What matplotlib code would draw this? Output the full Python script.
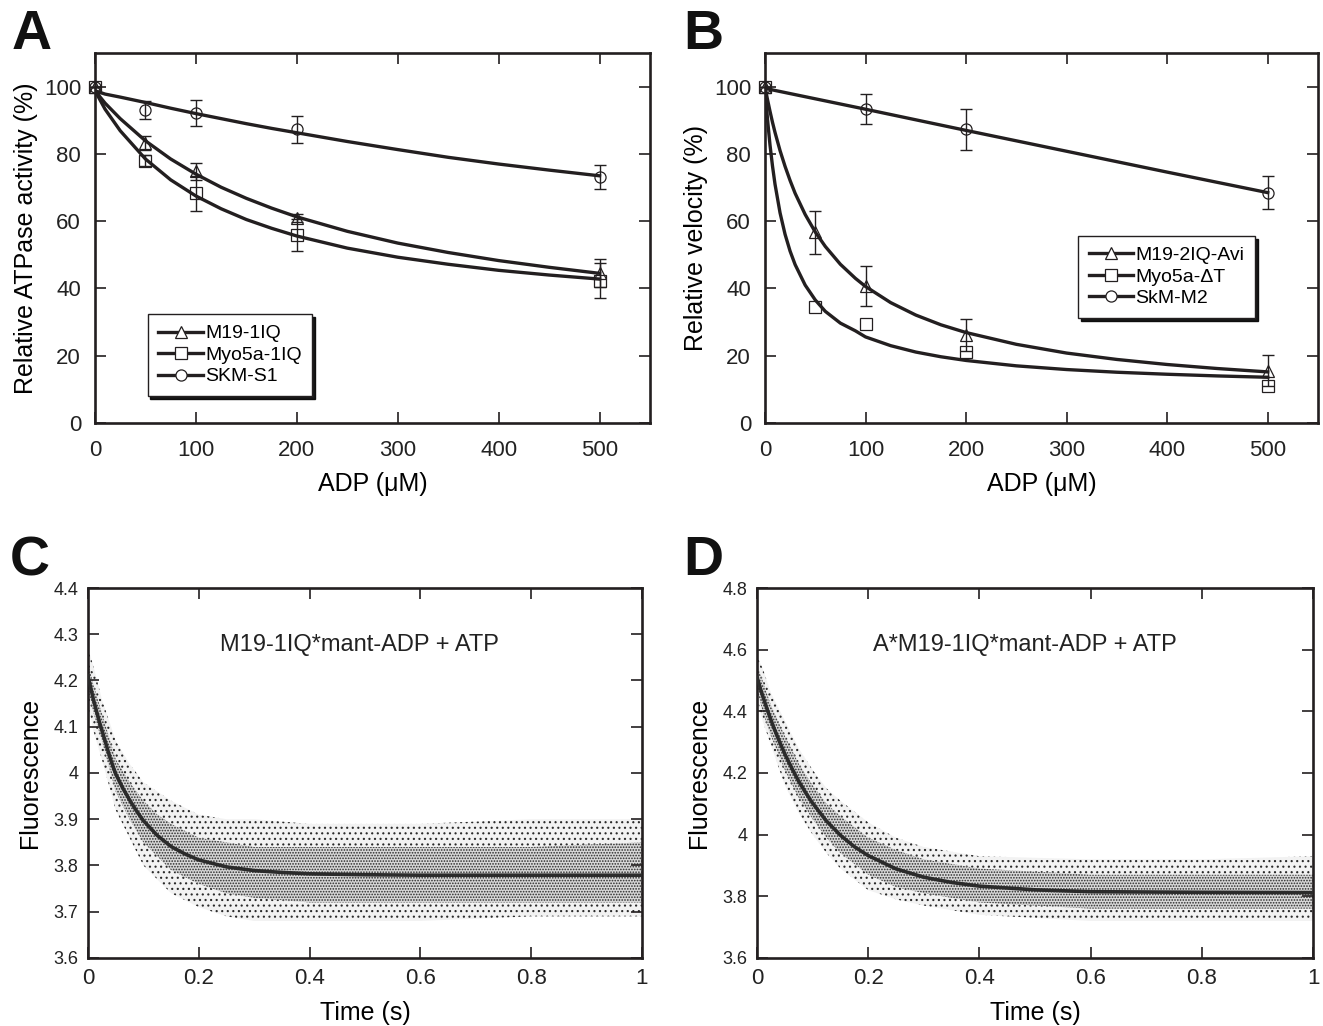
import numpy as np
import matplotlib
matplotlib.use("Agg")
import matplotlib.pyplot as plt
from matplotlib.lines import Line2D
from matplotlib.ticker import FuncFormatter, MultipleLocator

plt.rcParams['font.family'] = ['Liberation Sans', 'DejaVu Sans']
plt.rcParams['hatch.linewidth'] = 0.8

INK = '#231f20'

# ---- panel A : ATPase activity vs ADP ----
a_x = [0, 50, 100, 200, 500]
a_m19 = [100, 83.2, 74.8, 61.0, 44.6]
a_m19_err = [0, 2.0, 2.6, 1.2, 4.3]
a_myo = [100, 78.0, 68.3, 56.0, 42.3]
a_myo_err = [0, 1.6, 5.2, 4.8, 5.2]
a_skm = [100, 93.0, 92.2, 87.3, 73.2]
a_skm_err = [0, 2.6, 3.9, 4.1, 3.6]

a_fit_x = [0, 10, 25, 50, 75, 100, 125, 150, 175, 200, 250, 300, 350, 400, 450, 500]
a_fit_m19 = [98.8, 95.1, 90.5, 83.9, 78.5, 74.0, 70.1, 66.8, 63.9, 61.3, 57.0, 53.5, 50.7, 48.3, 46.3, 44.5]
a_fit_myo = [98.8, 93.3, 86.9, 78.5, 72.3, 67.5, 63.7, 60.5, 57.9, 55.6, 52.0, 49.3, 47.2, 45.4, 44.0, 42.8]
a_fit_skm = [98.8, 97.8, 96.9, 95.3, 93.6, 92.0, 90.5, 89.0, 87.6, 86.3, 83.7, 81.3, 79.0, 77.0, 75.2, 73.5]

# ---- panel B : velocity vs ADP ----
b_x = [0, 50, 100, 200, 500]
b_m19 = [100, 56.7, 40.7, 26.2, 15.6]
b_m19_err = [0, 6.3, 5.9, 4.7, 4.5]
b_myo = [100, 34.6, 29.4, 21.0, 11.0]
b_skm_x = [0, 100, 200, 500]
b_skm = [100, 93.4, 87.3, 68.5]
b_skm_err = [0, 4.5, 6.2, 5.0]

b_fit_x = [0, 2.5, 5, 7.5, 10, 15, 20, 25, 30, 40, 50, 60, 75, 90, 100, 125,
           150, 175, 200, 250, 300, 350, 400, 450, 500]
b_fit_m19 = [100, 96.2, 92.7, 89.4, 86.4, 81.0, 76.3, 72.1, 68.3, 62.0, 56.8, 52.5, 47.2,
             43.0, 40.6, 35.8, 32.1, 29.2, 26.9, 23.4, 20.8, 18.9, 17.4, 16.2, 15.2]
b_fit_myo = [100, 90.4, 82.7, 76.4, 71.0, 62.5, 56.1, 51.1, 47.1, 41.0, 36.6, 33.2, 29.7,
             27.4, 25.6, 23.0, 21.1, 19.7, 18.6, 17.0, 15.9, 15.1, 14.5, 14.0, 13.6]
b_fit_skm_x = [0, 100, 200, 300, 400, 500]
b_fit_skm = [99.5, 93.3, 87.0, 80.8, 74.6, 68.5]

# ---- panels C, D : fluorescence transients ----
fit_t = [0, 0.01, 0.02, 0.03, 0.04, 0.05, 0.0625, 0.075, 0.0875, 0.1, 0.125, 0.15, 0.175,
         0.2, 0.25, 0.3, 0.35, 0.4, 0.5, 0.6, 0.8, 1.0]
c_fit = [4.21, 4.158, 4.113, 4.073, 4.032, 3.998, 3.968, 3.942, 3.918, 3.897, 3.865, 3.841,
         3.825, 3.812, 3.797, 3.789, 3.785, 3.782, 3.780, 3.779, 3.779, 3.779]
d_fit = [4.51, 4.451, 4.397, 4.348, 4.303, 4.262, 4.216, 4.173, 4.136, 4.102, 4.044, 3.998,
         3.961, 3.932, 3.889, 3.862, 3.845, 3.833, 3.821, 3.815, 3.813, 3.812]

# spread of the raw trace (outer = sparse points, inner = dense core)
env_t = [0, 0.01, 0.025, 0.05, 0.075, 0.1, 0.125, 0.15, 0.2, 0.25, 0.3, 0.4, 0.6, 0.8, 1.0]
c_out_hi = [4.27, 4.23, 4.16, 4.07, 4.02, 3.98, 3.96, 3.94, 3.91, 3.90, 3.90, 3.89, 3.89, 3.90, 3.90]
c_out_lo = [4.15, 4.09, 4.03, 3.92, 3.86, 3.80, 3.77, 3.74, 3.71, 3.69, 3.68, 3.68, 3.68, 3.69, 3.69]
c_in_hi = [4.24, 4.19, 4.13, 4.03, 3.98, 3.94, 3.91, 3.89, 3.86, 3.85, 3.84, 3.84, 3.84, 3.84, 3.85]
c_in_lo = [4.18, 4.13, 4.07, 3.96, 3.90, 3.85, 3.82, 3.79, 3.76, 3.74, 3.73, 3.72, 3.72, 3.72, 3.72]
d_out_hi = [4.58, 4.54, 4.46, 4.37, 4.28, 4.21, 4.15, 4.11, 4.04, 3.99, 3.96, 3.93, 3.92, 3.92, 3.93]
d_out_lo = [4.44, 4.37, 4.29, 4.16, 4.07, 4.00, 3.94, 3.89, 3.82, 3.79, 3.77, 3.74, 3.72, 3.72, 3.72]
d_in_hi = [4.55, 4.50, 4.42, 4.32, 4.23, 4.16, 4.10, 4.06, 3.99, 3.95, 3.92, 3.89, 3.87, 3.87, 3.87]
d_in_lo = [4.47, 4.40, 4.32, 4.21, 4.12, 4.05, 3.99, 3.94, 3.87, 3.83, 3.81, 3.78, 3.76, 3.76, 3.76]


fig = plt.figure(figsize=(13.23, 10.26), dpi=100)
axA = fig.add_axes([0.0718, 0.5877, 0.4195, 0.3606])
axB = fig.add_axes([0.5782, 0.5877, 0.4180, 0.3606])
axC = fig.add_axes([0.0665, 0.0663, 0.4187, 0.3606])
axD = fig.add_axes([0.5722, 0.0663, 0.4203, 0.3606])

fmt_g = FuncFormatter(lambda v, p: '%g' % round(v, 3))


def style(ax, xpad=7, ypad=7):
    for s in ax.spines.values():
        s.set_linewidth(1.9)
        s.set_color(INK)
    ax.tick_params(direction='in', top=True, right=True, length=8, width=1.2,
                   labelsize=16, colors=INK, labelcolor='#222')
    ax.tick_params(axis='x', pad=xpad)
    ax.tick_params(axis='y', pad=ypad)


def markers(ax, x, y, err, mk):
    if err is not None:
        ax.errorbar(x, y, yerr=err, fmt='none', ecolor=INK, elinewidth=1.0,
                    capsize=4, capthick=1.0, clip_on=False, zorder=3)
    ax.plot(x, y, ls='none', marker=mk, ms=8, mfc='none', mec=INK, mew=0.9,
            clip_on=False, zorder=4)


def handle(mk):
    return Line2D([], [], color=INK, lw=2.4, marker=mk, ms=8, mfc='white',
                  mec=INK, mew=0.9)


def legend(ax, labels, anchor):
    lg = ax.legend([handle('^'), handle('s'), handle('o')], labels,
                   loc='lower left', bbox_to_anchor=anchor, frameon=True,
                   fancybox=False, shadow={'color': 'black', 'alpha': 0.9},
                   fontsize=14, handlelength=2.3, handletextpad=0.1,
                   labelspacing=0.2, borderpad=0.55, borderaxespad=0)
    lg.get_frame().set_edgecolor(INK)
    lg.get_frame().set_linewidth(1.0)


# A
style(axA, xpad=12, ypad=10)
axA.plot(a_fit_x, a_fit_m19, color=INK, lw=2.4, zorder=2)
axA.plot(a_fit_x, a_fit_myo, color=INK, lw=2.4, zorder=2)
axA.plot(a_fit_x, a_fit_skm, color=INK, lw=2.4, zorder=2)
markers(axA, a_x, a_m19, a_m19_err, '^')
markers(axA, a_x, a_myo, a_myo_err, 's')
markers(axA, a_x, a_skm, a_skm_err, 'o')
axA.set_xlim(0, 550)
axA.set_ylim(0, 110)
axA.xaxis.set_major_locator(MultipleLocator(100))
axA.yaxis.set_major_locator(MultipleLocator(20))
axA.set_xlabel('ADP (\u03bcM)', fontsize=18, labelpad=8)
axA.set_ylabel('Relative ATPase activity (%)', fontsize=18, labelpad=4)
legend(axA, ['M19-1IQ', 'Myo5a-1IQ', 'SKM-S1'], (0.095, 0.073))

# B
style(axB, xpad=12, ypad=10)
axB.plot(b_fit_x, b_fit_m19, color=INK, lw=2.4, zorder=2)
axB.plot(b_fit_x, b_fit_myo, color=INK, lw=2.4, zorder=2)
axB.plot(b_fit_skm_x, b_fit_skm, color=INK, lw=2.4, zorder=2)
markers(axB, b_x, b_m19, b_m19_err, '^')
markers(axB, b_x, b_myo, None, 's')
markers(axB, b_skm_x, b_skm, b_skm_err, 'o')
axB.set_xlim(0, 550)
axB.set_ylim(0, 110)
axB.xaxis.set_major_locator(MultipleLocator(100))
axB.yaxis.set_major_locator(MultipleLocator(20))
axB.set_xlabel('ADP (\u03bcM)', fontsize=18, labelpad=8)
axB.set_ylabel('Relative velocity (%)', fontsize=18, labelpad=4)
legend(axB, ['M19-2IQ-Avi', 'Myo5a-\u0394T', 'SkM-M2'], (0.566, 0.284))


def transient(ax, out_hi, out_lo, in_hi, in_lo, fit, ylo, yhi, step, title, tx, ty):
    style(ax)
    ax.fill_between(env_t, out_lo, out_hi, facecolor='#f2f2f2', edgecolor='#2a2a2a',
                    hatch='...', linewidth=0, zorder=1)
    ax.fill_between(env_t, in_lo, in_hi, facecolor='#d8d8d8', edgecolor='#2a2a2a',
                    hatch='......', linewidth=0, zorder=1)
    ax.plot(fit_t, fit, color='#2b2b2b', lw=2.6, zorder=3)
    ax.set_xlim(0, 1)
    ax.set_ylim(ylo, yhi)
    ax.xaxis.set_major_locator(MultipleLocator(0.2))
    ax.yaxis.set_major_locator(MultipleLocator(step))
    ax.xaxis.set_major_formatter(fmt_g)
    ax.yaxis.set_major_formatter(fmt_g)
    ax.tick_params(axis='y', labelsize=13)
    ax.set_xlabel('Time (s)', fontsize=18, labelpad=9)
    ax.set_ylabel('Fluorescence', fontsize=18, labelpad=8)
    ax.text(tx, ty, title, fontsize=17, ha='center', va='center', color='#222')


transient(axC, c_out_hi, c_out_lo, c_in_hi, c_in_lo, c_fit, 3.6, 4.4, 0.1,
          'M19-1IQ*mant-ADP + ATP', 0.49, 4.277)
transient(axD, d_out_hi, d_out_lo, d_in_hi, d_in_lo, d_fit, 3.6, 4.8, 0.2,
          'A*M19-1IQ*mant-ADP + ATP', 0.482, 4.615)

for lab, x, y in [('A', 12, 49), ('B', 683, 49), ('C', 10, 575), ('D', 683, 575)]:
    fig.text(x / 1323, 1 - y / 1026, lab, fontsize=40, fontweight='bold',
             ha='left', va='baseline', color='#111')

fig.savefig('out.png', dpi=100)
